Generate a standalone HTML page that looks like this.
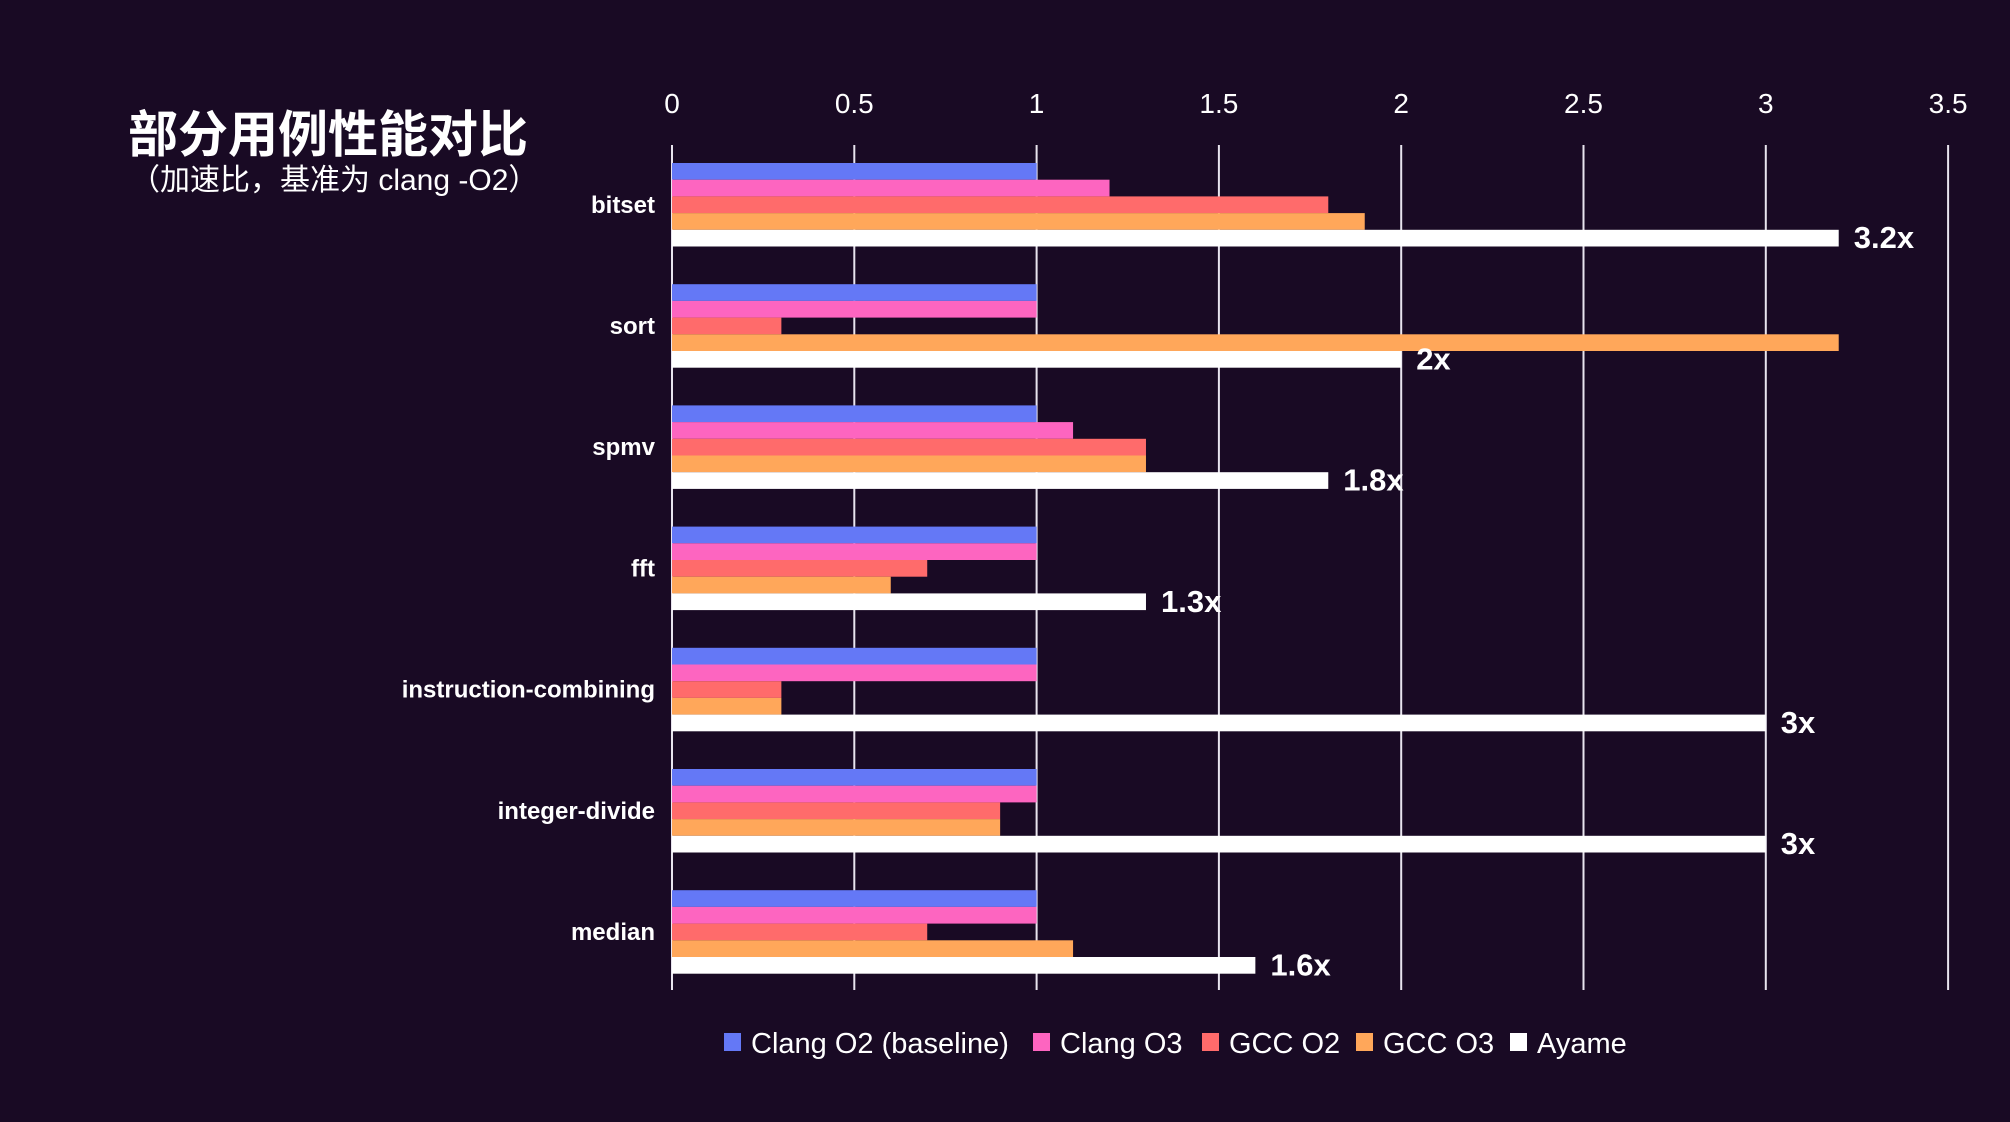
<!DOCTYPE html>
<html><head><meta charset="utf-8"><style>
html,body{margin:0;padding:0;background:#190a24;}
svg{display:block;font-family:"Liberation Sans","Noto Sans CJK SC",sans-serif;}
</style></head><body>
<svg id="chart" width="2010" height="1122" viewBox="0 0 2010 1122" xmlns="http://www.w3.org/2000/svg">
<rect width="2010" height="1122" fill="#190a24"/>
<text x="128" y="152" font-size="50" font-weight="bold" fill="#fff" font-family="'Liberation Sans','Noto Sans CJK SC',sans-serif">部分用例性能对比</text>
<text x="130" y="190" font-size="30" fill="#fff" font-family="'Liberation Sans','Noto Sans CJK SC',sans-serif">（加速比，基准为 clang -O2）</text>
<g id="grid"></g>
<g id="bars"></g>
<g id="legend"></g>
</svg>
<script>
const categories = ["bitset","sort","spmv","fft","instruction-combining","integer-divide","median"];
const seriesNames = ["Clang O2 (baseline)","Clang O3","GCC O2","GCC O3","Ayame"];
const clangO2 = [1,1,1,1,1,1,1];
const clangO3 = [1.2,1,1.1,1,1,1,1];
const gccO2 = [1.8,0.3,1.3,0.7,0.3,0.9,0.7];
const gccO3 = [1.9,3.2,1.3,0.6,0.3,0.9,1.1];
const ayame = [3.2,2,1.8,1.3,3,3,1.6];
const ayameLabels = ["3.2x","2x","1.8x","1.3x","3x","3x","1.6x"];
const ticks = [0,0.5,1,1.5,2,2.5,3,3.5];
const tickLabels = ["0","0.5","1","1.5","2","2.5","3","3.5"];

const colors = ["#6478f6","#fd65c0","#ff6b6b","#ffa75a","#ffffff"];
const series = [clangO2, clangO3, gccO2, gccO3, ayame];
const NS = "http://www.w3.org/2000/svg";
const x0 = 672, unit = 364.6;
const xs = v => x0 + v * unit;
const groupTop = 163, groupPitch = 121.2, barH = 16.7;
const gy = i => groupTop + i * groupPitch;
function mk(tag, attrs, parent){const e=document.createElementNS(NS,tag);for(const k in attrs)e.setAttribute(k,attrs[k]);parent.appendChild(e);return e;}
const grid=document.getElementById('grid'), bars=document.getElementById('bars'), legend=document.getElementById('legend');
ticks.forEach((t,i)=>{
  const l=mk('line',{x1:xs(t),x2:xs(t),y1:145,y2:990,stroke:'#e8e4ee','stroke-width':2},grid);
  
  
  const tx=mk('text',{x:xs(t),y:113,'font-size':28,fill:'#fff','text-anchor':'middle'},grid);
  tx.textContent=tickLabels[i];
  
  
});
categories.forEach((c,i)=>{
  const lab=mk('text',{x:655,y:gy(i)+barH*2.5+8,'font-size':24,'font-weight':'bold',fill:'#fff','text-anchor':'end'},bars);
  lab.textContent=c;
  
  
  series.forEach((s,j)=>{
    const r=mk('rect',{x:x0,y:gy(i)+j*barH,width:xs(s[i])-x0,height:barH,fill:colors[j]},bars);
    
    
  });
  const v=mk('text',{x:xs(ayame[i])+15,y:gy(i)+4*barH+barH/2+10,'font-size':31,'font-weight':'600',fill:'#fff'},bars);
  v.textContent=ayameLabels[i];
  
  
});
let lx=724;
const lw=[309,169,154,154,130];
seriesNames.forEach((n,j)=>{
  const r=mk('rect',{x:lx,y:1033,width:17,height:18,fill:colors[j]},legend);
  
  
  const t=mk('text',{x:lx+27,y:1053,'font-size':29,fill:'#fff'},legend);
  t.textContent=n;
  
  
  lx+=lw[j];
});
</script>
</body></html>
